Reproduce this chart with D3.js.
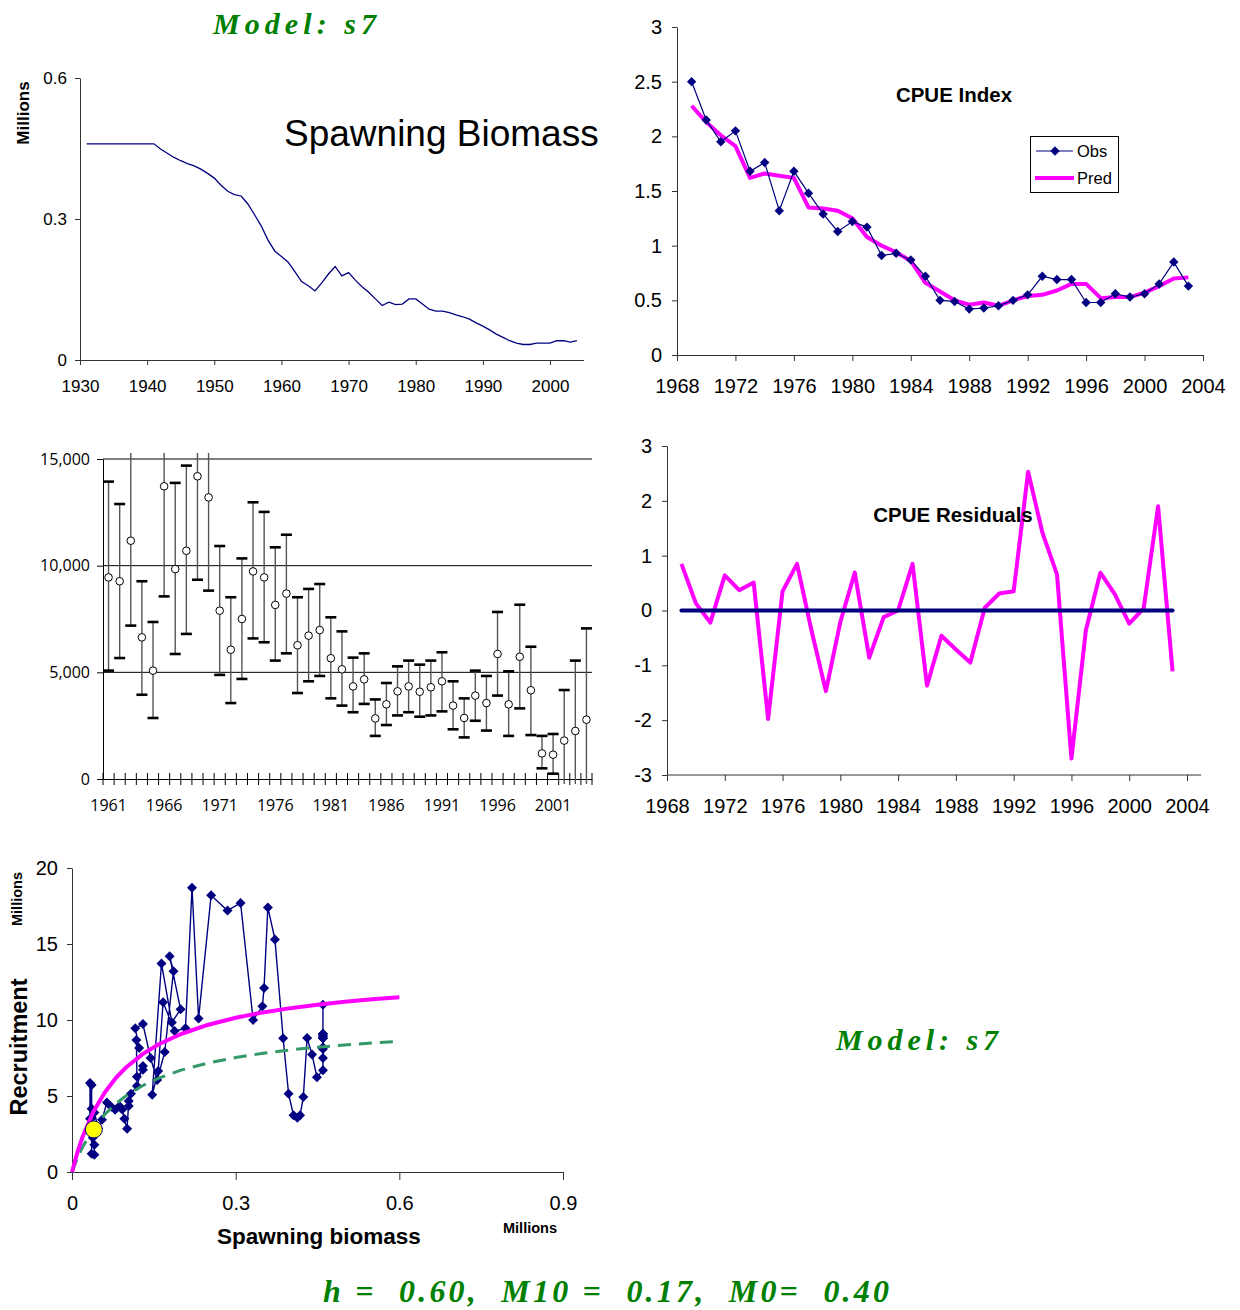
<!DOCTYPE html>
<html><head><meta charset="utf-8">
<script src="https://cdn.jsdelivr.net/npm/d3@7"></script>
<style>body{margin:0;background:#fff}svg{display:block}</style>
</head><body><svg id="c" width="1240" height="1310"></svg>
<script>
// ---------------- DATA ----------------
const ssbStartYear = 1931;
// Spawning biomass (millions), 1931-2004
const ssb = [0.46,0.46,0.46,0.46,0.46,0.46,0.46,0.46,0.46,0.46,0.46,0.449,0.44,0.431,0.424,0.418,0.413,0.406,0.397,0.387,
  0.372,0.359,0.352,0.349,0.332,0.309,0.285,0.255,0.232,0.220,0.208,0.188,0.167,0.158,0.147,0.164,0.183,0.199,0.179,0.186,
  0.170,0.156,0.144,0.130,0.116,0.123,0.118,0.119,0.130,0.130,0.119,0.108,0.104,0.104,0.101,0.096,0.092,0.087,0.079,0.072,
  0.064,0.055,0.048,0.041,0.036,0.033,0.033,0.036,0.036,0.036,0.041,0.041,0.038,0.041];
const ssbTicksX = [1930,1940,1950,1960,1970,1980,1990,2000];
const ssbTicksY = [0,0.3,0.6];

const cpueStartYear = 1969;
const cpueObs = [2.50,2.15,1.95,2.05,1.68,1.76,1.32,1.68,1.48,1.29,1.13,1.22,1.17,0.91,0.93,0.87,0.72,0.50,0.49,0.42,
  0.43,0.45,0.50,0.55,0.72,0.69,0.69,0.48,0.48,0.56,0.53,0.56,0.65,0.85,0.63];
const cpuePred = [2.28,2.13,2.01,1.91,1.62,1.66,1.64,1.62,1.35,1.34,1.32,1.25,1.08,1.00,0.94,0.86,0.66,0.58,0.50,0.46,
  0.48,0.45,0.50,0.54,0.55,0.59,0.65,0.65,0.52,0.53,0.53,0.57,0.63,0.70,0.71];
const cpueResid = [0.85,0.13,-0.22,0.64,0.37,0.51,-1.98,0.35,0.85,-0.36,-1.47,-0.21,0.69,-0.86,-0.12,0.0,0.85,-1.37,-0.46,-0.71,
  -0.95,0.05,0.31,0.35,2.53,1.41,0.66,-2.70,-0.36,0.69,0.30,-0.24,0.04,1.90,-1.11];
const cpueTicksX = [1968,1972,1976,1980,1984,1988,1992,1996,2000,2004];
const cpueTicksY = [0,0.5,1,1.5,2,2.5,3];
const residTicksY = [-3,-2,-1,0,1,2,3];

// Recruitment estimates (thousands) with bounds, 1961-2004
const recYears = d3.range(1961, 2005);
const recEst = [9450,9270,11170,6640,5080,13720,9840,10700,14190,13200,7890,6060,7500,9730,9450,8160,8690,6270,6720,6980,
  5660,5140,4340,4670,2840,3500,4110,4340,4090,4300,4580,3440,2860,3910,3560,5860,3500,5730,4160,1200,1140,1800,2250,2780];
const recUpper = [13940,12890,17000,9270,7360,17000,13880,14690,17000,17000,10920,8520,10340,12970,12520,10860,11450,8520,8910,9140,
  7580,6920,5690,5890,3730,4500,5280,5550,5360,5550,5940,4580,3780,5080,4830,7830,5050,8170,6200,2020,2110,4170,5550,7060];
const recLower = [5080,5670,7190,3950,2860,8560,5860,6800,9340,8830,4880,3560,4690,6590,6410,5550,5890,4030,4580,4830,
  3780,3440,3130,3520,2020,2530,2980,3130,2920,2980,3170,2330,1950,2730,2270,3910,2020,3310,2060,500,250,-600,-1100,-1500];
const recLabelYears = [1961,1966,1971,1976,1981,1986,1991,1996,2001];
const recTicksY = [0,5000,10000,15000];

// Stock-recruit: recruitment (millions) 1931-1960
const srRecEarly = [8.8,9.1,8.9,11.0,8.1,9.1,7.5,8.8,8.2,9.0,6.7,6.24,7.73,8.82,4.93,3.73,3.57,3.73,5.15,8.8,
  15.3,17.4,12.1,10.9,10.0,17.7,17.2,18.2,10.1,18.7];
const curveS   = [0,0.01,0.02,0.04,0.06,0.08,0.10,0.13,0.16,0.20,0.25,0.30,0.35,0.40,0.45,0.50,0.55,0.60];
const curveFit = [0,1.30,2.37,4.02,5.23,6.17,6.91,7.77,8.42,9.08,9.69,10.15,10.50,10.78,11.01,11.20,11.36,11.50];
const curveAlt = [0,0.92,1.68,2.88,3.78,4.48,5.04,5.69,6.19,6.70,7.18,7.53,7.81,8.03,8.21,8.36,8.49,8.60];
const refPoint = [{s:0.04, r:2.8}];
const srTicksX = [0,0.3,0.6,0.9];
const srTicksY = [0,5,10,15,20];

// ---------------- DRAW ----------------
const svg = d3.select("#c");
const SANS = "'Liberation Sans', Arial, sans-serif";
const SERIF = "'Liberation Serif', 'Times New Roman', serif";
const NAVY = "#000080", MAG = "#FF00FF", AXC = "#333";
const plain = d => String(d);

function styleAxis(g, size, font, color) {
  g.attr("font-family", font || SANS).attr("font-size", size);
  g.selectAll("path,line").attr("stroke", color || AXC);
  g.selectAll("text").attr("fill", "#000");
}
function bottomLabels(g, off) { g.selectAll("text").attr("y", off).attr("dy", null); }
function diamond(r) { return `M0,${-r}L${r},0L0,${r}L${-r},0Z`; }

// ---- Panel 1: Spawning biomass ----
{
  const x = d3.scaleLinear().domain([1930, 2005]).range([80, 583.6]);
  const y = d3.scaleLinear().domain([0, 0.6]).range([360, 78]);
  const gx = svg.append("g").attr("transform", "translate(0,360)")
    .call(d3.axisBottom(x).tickValues(ssbTicksX).tickFormat(plain).tickSize(5).tickSizeOuter(0));
  styleAxis(gx, 17); bottomLabels(gx, 32);
  const gy = svg.append("g").attr("transform", "translate(80,0)")
    .call(d3.axisLeft(y).tickValues(ssbTicksY).tickFormat(d => d === 0 ? "0" : d3.format(".1f")(d)).tickSize(5).tickSizeOuter(0).tickPadding(8));
  styleAxis(gy, 17);
  svg.append("path").datum(ssb)
    .attr("d", d3.line().x((d, i) => x(ssbStartYear + i)).y(d => y(d)))
    .attr("fill", "none").attr("stroke", NAVY).attr("stroke-width", 1.3);
  svg.append("text").attr("transform", "translate(29,113) rotate(-90)").attr("text-anchor", "middle")
    .attr("font-family", SANS).attr("font-weight", "bold").attr("font-size", 17).text("Millions");
  svg.append("text").attr("x", 284).attr("y", 146).attr("font-family", SANS).attr("font-size", 37).text("Spawning Biomass");
}

// ---- Panel 2: CPUE index ----
{
  const x = d3.scaleLinear().domain([1968, 2004]).range([677, 1203]);
  const y = d3.scaleLinear().domain([0, 3]).range([355, 27]);
  const gx = svg.append("g").attr("transform", "translate(0,355)")
    .call(d3.axisBottom(x).tickValues(cpueTicksX).tickFormat(plain).tickSize(6).tickSizeOuter(0));
  styleAxis(gx, 20); bottomLabels(gx, 38);
  const gy = svg.append("g").attr("transform", "translate(677,0)")
    .call(d3.axisLeft(y).tickValues(cpueTicksY).tickFormat(plain).tickSize(5).tickSizeOuter(0).tickPadding(10));
  styleAxis(gy, 20);
  svg.append("path").datum(cpuePred)
    .attr("d", d3.line().x((d, i) => x(cpueStartYear + i)).y(d => y(d)))
    .attr("fill", "none").attr("stroke", MAG).attr("stroke-width", 4).attr("stroke-linejoin", "round");
  svg.append("path").datum(cpueObs)
    .attr("d", d3.line().x((d, i) => x(cpueStartYear + i)).y(d => y(d)))
    .attr("fill", "none").attr("stroke", NAVY).attr("stroke-width", 1.2);
  svg.append("g").selectAll("path").data(cpueObs).join("path")
    .attr("transform", (d, i) => `translate(${x(cpueStartYear + i)},${y(d)})`)
    .attr("d", diamond(4.7)).attr("fill", NAVY);
  svg.append("text").attr("x", 954).attr("y", 102).attr("text-anchor", "middle")
    .attr("font-family", SANS).attr("font-weight", "bold").attr("font-size", 20.5).text("CPUE Index");
  // legend
  const lg = svg.append("g");
  lg.append("rect").attr("x", 1030.5).attr("y", 136.5).attr("width", 88).attr("height", 56)
    .attr("fill", "#fff").attr("stroke", "#000").attr("stroke-width", 1);
  lg.append("line").attr("x1", 1036).attr("x2", 1073).attr("y1", 151).attr("y2", 151).attr("stroke", NAVY).attr("stroke-width", 1.2);
  lg.append("path").attr("transform", "translate(1055,151)").attr("d", diamond(4.7)).attr("fill", NAVY);
  lg.append("line").attr("x1", 1035).attr("x2", 1074).attr("y1", 178).attr("y2", 178).attr("stroke", MAG).attr("stroke-width", 4);
  lg.append("text").attr("x", 1077).attr("y", 157).attr("font-family", SANS).attr("font-size", 16.5).text("Obs");
  lg.append("text").attr("x", 1077).attr("y", 184).attr("font-family", SANS).attr("font-size", 16.5).text("Pred");
}

// ---- Panel 3: recruitment with error bars ----
{
  const x = d3.scaleBand().domain(recYears).range([103, 592]).padding(0);
  const y = d3.scaleLinear().domain([0, 15000]).range([779, 459]);
  const cx = d => x(d) + x.bandwidth() / 2;
  const FONT3 = "'Open Sans', 'DejaVu Sans', sans-serif";
  svg.append("g").selectAll("line").data(recTicksY.filter(d => d > 0)).join("line")
    .attr("x1", 103).attr("x2", 592).attr("y1", d => y(d)).attr("y2", d => y(d))
    .attr("stroke", "#000").attr("stroke-width", 1);
  const gy = svg.append("g").attr("transform", "translate(103,0)")
    .call(d3.axisLeft(y).tickValues(recTicksY).tickFormat(d3.format(",")).tickSize(6).tickSizeOuter(0).tickPadding(7));
  styleAxis(gy, 16, FONT3, "#000");
  const gx = svg.append("g").attr("transform", "translate(0,779)")
    .call(d3.axisBottom(x).tickValues(recLabelYears).tickSize(0).tickSizeOuter(0));
  styleAxis(gx, 16, FONT3, "#000"); bottomLabels(gx, 32);
  const bounds = recYears.map(d => x(d)).concat([x.range()[1]]);
  svg.append("g").selectAll("line").data(bounds).join("line")
    .attr("x1", d => d).attr("x2", d => d).attr("y1", 773).attr("y2", 785)
    .attr("stroke", "#000").attr("stroke-width", 1);
  svg.append("clipPath").attr("id", "clip3").append("rect").attr("x", 95).attr("y", 453).attr("width", 510).attr("height", 331);
  const eb = svg.append("g").attr("clip-path", "url(#clip3)");
  const recs = recYears.map((yr, i) => ({yr, v: recEst[i], hi: recUpper[i], lo: recLower[i]}));
  eb.selectAll("line.bar").data(recs).join("line").attr("class", "bar")
    .attr("x1", d => cx(d.yr)).attr("x2", d => cx(d.yr)).attr("y1", d => y(d.lo)).attr("y2", d => y(d.hi))
    .attr("stroke", "#555").attr("stroke-width", 1.4);
  const caps = [];
  recs.forEach(d => { [d.hi, d.lo].forEach(v => { if (v >= 0 && v <= 15000) caps.push({yr: d.yr, v}); }); });
  eb.selectAll("line.cap").data(caps).join("line").attr("class", "cap")
    .attr("x1", d => cx(d.yr) - 5.5).attr("x2", d => cx(d.yr) + 5.5).attr("y1", d => y(d.v)).attr("y2", d => y(d.v))
    .attr("stroke", "#000").attr("stroke-width", 2.6);
  eb.selectAll("circle").data(recs).join("circle")
    .attr("cx", d => cx(d.yr)).attr("cy", d => y(d.v)).attr("r", 3.8)
    .attr("fill", "#fff").attr("stroke", "#000").attr("stroke-width", 1);
}

// ---- Panel 4: CPUE residuals ----
{
  const x = d3.scaleLinear().domain([1968, 2004]).range([667, 1187]);
  const y = d3.scaleLinear().domain([-3, 3]).range([775, 446]);
  const gx = svg.append("g").attr("transform", "translate(0,775)")
    .call(d3.axisBottom(x).tickValues(cpueTicksX).tickFormat(plain).tickSize(6).tickSizeOuter(0));
  styleAxis(gx, 20); bottomLabels(gx, 38);
  gx.select(".domain").attr("d", `M${x(1968)},0H${x(2004) + 14}`);
  const gy = svg.append("g").attr("transform", "translate(667,0)")
    .call(d3.axisLeft(y).tickValues(residTicksY).tickFormat(plain).tickSize(5).tickSizeOuter(0).tickPadding(10));
  styleAxis(gy, 20);
  svg.append("path").datum(cpueResid)
    .attr("d", d3.line().x((d, i) => x(cpueStartYear + i)).y(d => y(d)))
    .attr("fill", "none").attr("stroke", MAG).attr("stroke-width", 4).attr("stroke-linejoin", "round");
  const lastYear = cpueStartYear + cpueResid.length - 1;
  svg.append("line").attr("x1", x(cpueStartYear)).attr("x2", x(lastYear)).attr("y1", y(0)).attr("y2", y(0))
    .attr("stroke", NAVY).attr("stroke-width", 4).attr("stroke-linecap", "round");
  svg.append("text").attr("x", 953).attr("y", 522).attr("text-anchor", "middle")
    .attr("font-family", SANS).attr("font-weight", "bold").attr("font-size", 20.5).text("CPUE Residuals");
}

// ---- Panel 5: stock-recruit ----
{
  const x = d3.scaleLinear().domain([0, 0.9]).range([72, 563]);
  const y = d3.scaleLinear().domain([0, 20]).range([1172, 868]);
  const gx = svg.append("g").attr("transform", "translate(0,1172)")
    .call(d3.axisBottom(x).tickValues(srTicksX).tickFormat(d => d === 0 ? "0" : d3.format(".1f")(d)).tickSize(8).tickSizeOuter(0));
  styleAxis(gx, 20); bottomLabels(gx, 38);
  const gy = svg.append("g").attr("transform", "translate(72,0)")
    .call(d3.axisLeft(y).tickValues(srTicksY).tickFormat(plain).tickSize(5).tickSizeOuter(0).tickPadding(9));
  styleAxis(gy, 20);
  const pts = ssb.map((s, i) => ({s, r: i < srRecEarly.length ? srRecEarly[i] : recEst[i - srRecEarly.length] / 1000}));
  svg.append("path").datum(pts)
    .attr("d", d3.line().x(d => x(d.s)).y(d => y(d.r)))
    .attr("fill", "none").attr("stroke", NAVY).attr("stroke-width", 1.4);
  svg.append("g").selectAll("path").data(pts).join("path")
    .attr("transform", d => `translate(${x(d.s)},${y(d.r)})`).attr("d", diamond(5)).attr("fill", NAVY);
  svg.append("path").datum(curveS)
    .attr("d", d3.line().x(d => x(d)).y((d, i) => y(curveAlt[i])))
    .attr("fill", "none").attr("stroke", "#339966").attr("stroke-width", 3).attr("stroke-dasharray", "13,8");
  svg.append("path").datum(curveS)
    .attr("d", d3.line().x(d => x(d)).y((d, i) => y(curveFit[i])))
    .attr("fill", "none").attr("stroke", MAG).attr("stroke-width", 4).attr("stroke-linejoin", "round");
  svg.append("g").selectAll("circle").data(refPoint).join("circle")
    .attr("cx", d => x(d.s)).attr("cy", d => y(d.r)).attr("r", 8.5)
    .attr("fill", "#FFFF00").attr("stroke", NAVY).attr("stroke-width", 1);
  svg.append("text").attr("transform", "translate(22,899) rotate(-90)").attr("text-anchor", "middle")
    .attr("font-family", SANS).attr("font-weight", "bold").attr("font-size", 14.5).text("Millions");
  svg.append("text").attr("transform", "translate(27,1047) rotate(-90)").attr("text-anchor", "middle")
    .attr("font-family", SANS).attr("font-weight", "bold").attr("font-size", 23.5).text("Recruitment");
  svg.append("text").attr("x", 319).attr("y", 1244).attr("text-anchor", "middle")
    .attr("font-family", SANS).attr("font-weight", "bold").attr("font-size", 22.5).text("Spawning biomass");
  svg.append("text").attr("x", 530).attr("y", 1233).attr("text-anchor", "middle")
    .attr("font-family", SANS).attr("font-weight", "bold").attr("font-size", 14.5).text("Millions");
}

// ---- Green titles ----
function greenText(txt, x0, width, baseline, size) {
  svg.append("text").attr("x", x0).attr("y", baseline)
    .attr("font-family", SERIF).attr("font-style", "italic").attr("font-weight", "bold")
    .attr("font-size", size).attr("fill", "#008000")
    .attr("textLength", width).attr("lengthAdjust", "spacing")
    .style("white-space", "pre").text(txt);
}
greenText("Model: s7", 213, 163, 34, 30);
greenText("Model: s7", 836, 162, 1050, 30);
greenText("h =  0.60,  M10 =  0.17,  M0=  0.40", 323, 566, 1302, 32);
</script></body></html>
